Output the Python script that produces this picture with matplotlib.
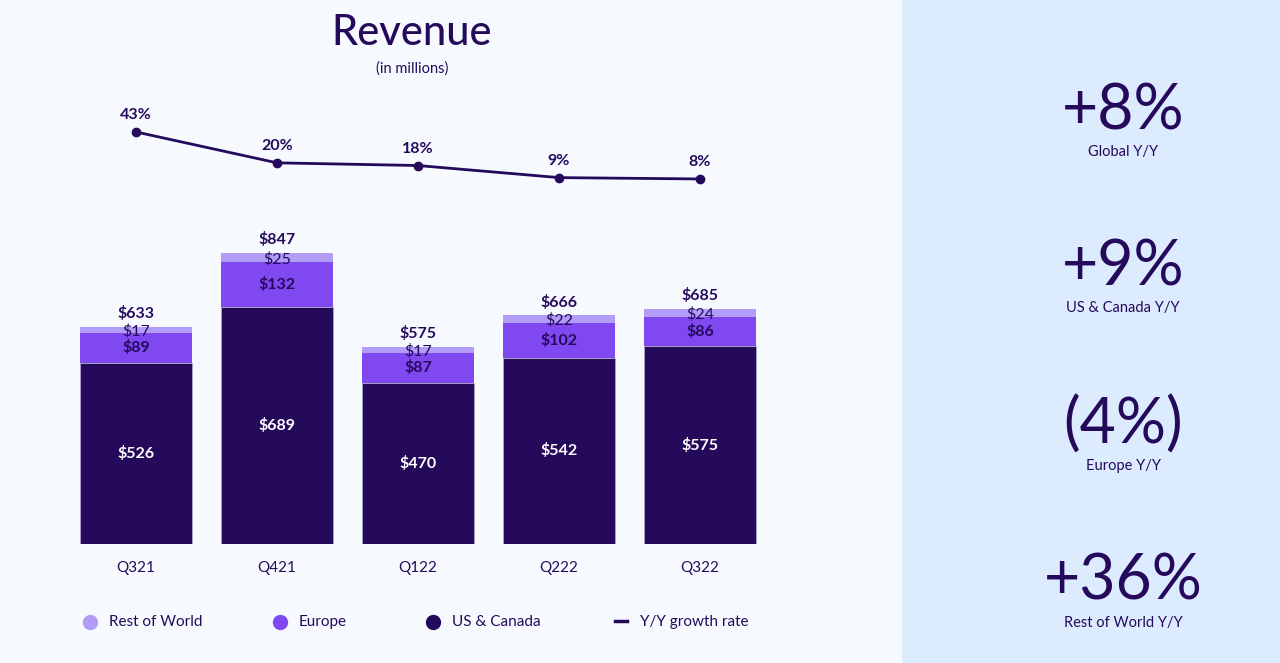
import numpy as np
import matplotlib.pyplot as plt

plt.rcParams['font.family'] = ['Lato', 'DejaVu Sans']

quarters = ["Q321", "Q421", "Q122", "Q222", "Q322"]
us_canada = [526, 689, 470, 542, 575]
europe = [89, 132, 87, 102, 86]
rest_world = [17, 25, 17, 22, 24]
totals = [633, 847, 575, 666, 685]
growth = [43, 20, 18, 9, 8]

kpi_values = ["+8%", "+9%", "(4%)", "+36%"]
kpi_labels = ["Global Y/Y", "US & Canada Y/Y", "Europe Y/Y", "Rest of World Y/Y"]

navy = "#250a5c"
purple = "#7f48f0"
lilac = "#b19cf6"
bg = "#f6faff"
panel = "#dcebfd"

W, H = 1280, 663
fig = plt.figure(figsize=(W / 100, H / 100), dpi=100, facecolor=bg)

# right KPI panel
fig.patches.append(plt.Rectangle((902 / W, 0), 1 - 902 / W, 1, transform=fig.transFigure,
                                 facecolor=panel, edgecolor="none", zorder=0))
kpi_y = [111, 267, 425, 582]
for v, lab, y in zip(kpi_values, kpi_labels, kpi_y):
    fig.text(1123 / W, 1 - y / H, v, ha="center", va="center", fontsize=45, color=navy)
    fig.text(1123 / W, 1 - (y + 41) / H, lab, ha="center", va="center", fontsize=10.5, color=navy)

fig.text(412 / W, 1 - 33 / H, "Revenue", ha="center", va="center", fontsize=30,
         color=navy, fontweight="medium")
fig.text(412 / W, 1 - 69 / H, "(in millions)", ha="center", va="center", fontsize=10.5, color=navy)

# bar axes: y=0 at px 544, 0.3436 px per $M
left, right, bottom, top = 65.5, 770.5, 544, 100
ax = fig.add_axes([left / W, 1 - bottom / H, (right - left) / W, (bottom - top) / H])
ax.set_facecolor("none")
x = np.arange(len(quarters))
scale = 0.3436
ax.set_xlim(-0.5, 4.5)
ax.set_ylim(0, (bottom - top) / scale)

us = np.array(us_canada)
eu = np.array(europe)
rw = np.array(rest_world)
bw = 0.79
ax.bar(x, us, bw, color=navy, edgecolor="#b9b0d6", linewidth=0.4, zorder=2)
ax.bar(x, eu, bw, bottom=us, color=purple, edgecolor="none", zorder=2)
ax.bar(x, rw, bw, bottom=us + eu, color=lilac, edgecolor="none", zorder=2)

for i in x:
    ax.text(i, us[i] / 2, f"${us[i]}", ha="center", va="center", color="white",
            fontsize=11.5, fontweight="bold")
    ax.text(i, us[i] + eu[i] / 2, f"${eu[i]}", ha="center", va="center", color=navy,
            fontsize=11.5, fontweight="bold")
    ax.text(i, us[i] + eu[i] + rw[i] / 2 - 4, f"${rw[i]}", ha="center", va="center",
            color=navy, fontsize=11.5)
    ax.text(i, totals[i] + 38, f"${totals[i]}", ha="center", va="center", color=navy,
            fontsize=11.5, fontweight="bold")

ax.set_xticks(x)
ax.set_xticklabels(quarters, fontsize=11, color=navy)
ax.tick_params(axis="x", length=0, pad=12)
ax.set_yticks([])
for s in ax.spines.values():
    s.set_visible(False)

# growth line on its own scale: 1.343 px per point, 0% at px 189.7
ax2 = ax.twinx()
k = 1.343
zero_px = 189.7
ax2.set_ylim(-(bottom - zero_px) / k, (zero_px - top) / k)
ax2.plot(x, growth, color=navy, lw=2, marker="o", ms=6, zorder=3)
for i, g in enumerate(growth):
    ax2.text(i, g + 12.5, f"{g}%", ha="center", va="center", color=navy,
             fontsize=11.5, fontweight="bold")
ax2.set_yticks([])
for s in ax2.spines.values():
    s.set_visible(False)

# legend
leg_y = 1 - 622 / H
items = [(90, 109, "Rest of World", lilac), (280, 299, "Europe", purple),
         (433, 452, "US & Canada", navy)]
for mx, tx, lab, c in items:
    fig.add_artist(plt.Line2D([mx / W], [leg_y], marker="o", ms=10, color=c,
                              linestyle="none", transform=fig.transFigure))
    fig.text(tx / W, leg_y, lab, ha="left", va="center", fontsize=11, color=navy)
fig.add_artist(plt.Line2D([615 / W, 627 / W], [1 - 621 / H] * 2, color=navy, lw=2.5,
                          transform=fig.transFigure))
fig.text(640 / W, leg_y, "Y/Y growth rate", ha="left", va="center", fontsize=11, color=navy)

fig.savefig("out.png", dpi=100, facecolor=bg)
